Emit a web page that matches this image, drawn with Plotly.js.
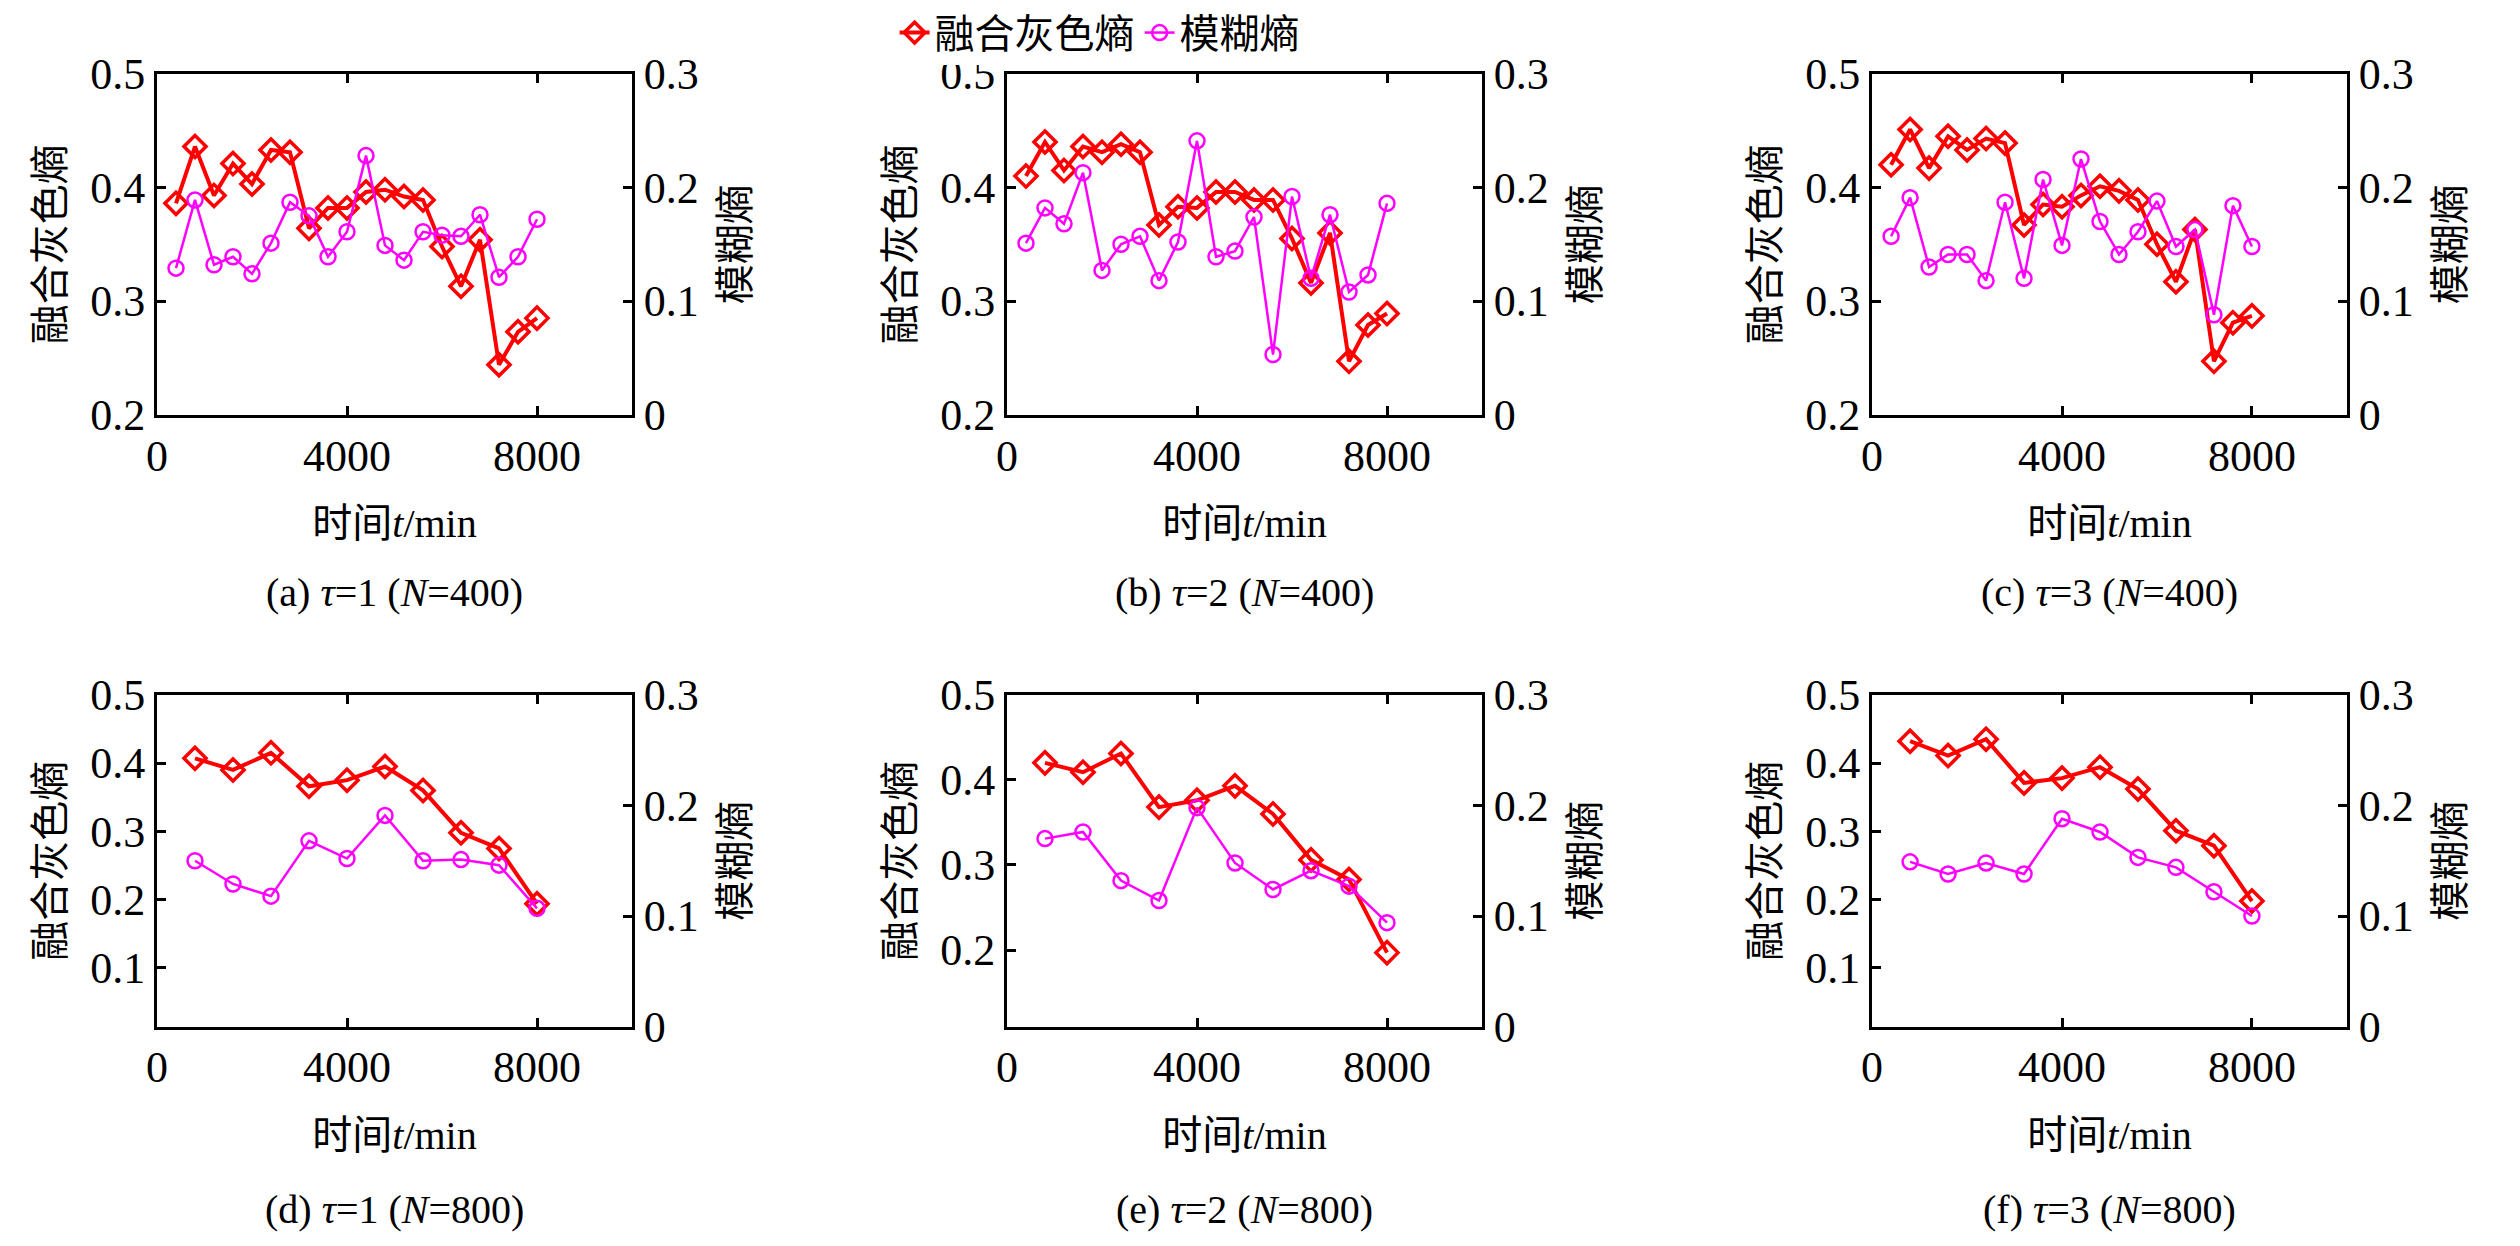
<!DOCTYPE html>
<html>
<head>
<meta charset="utf-8">
<script src="https://cdn.plot.ly/plotly-3.0.1.min.js"></script>
<style>body{margin:0;background:#fff}#myDiv{width:2520px;height:1246px}</style>
</head>
<body>
<div id="myDiv"></div>
<script>
// time axis for N=400 and N=800
var t400 = [400,800,1200,1600,2000,2400,2800,3200,3600,4000,4400,4800,5200,5600,6000,6400,6800,7200,7600,8000];
var t800 = [800,1600,2400,3200,4000,4800,5600,6400,7200,8000];

// 融合灰色熵 (left axis)
var grey_a = [0.386,0.436,0.393,0.421,0.403,0.433,0.431,0.364,0.382,0.382,0.396,0.398,0.392,0.389,0.348,0.313,0.354,0.244,0.273,0.285];
var grey_b = [0.410,0.440,0.415,0.436,0.431,0.438,0.431,0.367,0.383,0.382,0.396,0.396,0.389,0.389,0.355,0.316,0.360,0.247,0.279,0.289];
var grey_c = [0.420,0.451,0.417,0.445,0.433,0.443,0.439,0.367,0.385,0.383,0.393,0.401,0.397,0.389,0.350,0.317,0.363,0.247,0.281,0.287];
var grey_d = [0.407,0.390,0.415,0.366,0.375,0.395,0.360,0.298,0.275,0.194];
var grey_e = [0.420,0.409,0.431,0.368,0.376,0.393,0.360,0.306,0.283,0.197];
var grey_f = [0.432,0.411,0.435,0.371,0.378,0.394,0.362,0.301,0.279,0.198];

// 模糊熵 (right axis)
var fuzzy_a = [0.129,0.189,0.132,0.139,0.124,0.151,0.187,0.175,0.139,0.161,0.228,0.149,0.136,0.161,0.158,0.157,0.176,0.121,0.139,0.172];
var fuzzy_b = [0.151,0.182,0.168,0.213,0.127,0.150,0.157,0.118,0.152,0.241,0.139,0.144,0.174,0.053,0.192,0.120,0.176,0.108,0.123,0.186];
var fuzzy_c = [0.157,0.191,0.130,0.141,0.141,0.118,0.187,0.120,0.207,0.149,0.225,0.170,0.141,0.161,0.188,0.148,0.163,0.088,0.184,0.148];
var fuzzy_d = [0.150,0.129,0.118,0.168,0.152,0.191,0.150,0.151,0.146,0.107];
var fuzzy_e = [0.170,0.176,0.132,0.114,0.198,0.148,0.124,0.141,0.127,0.094];
var fuzzy_f = [0.149,0.138,0.148,0.138,0.188,0.176,0.153,0.144,0.122,0.100];

var captions = ['(a) <i>τ</i>=1 (<i>N</i>=400)','(b) <i>τ</i>=2 (<i>N</i>=400)','(c) <i>τ</i>=3 (<i>N</i>=400)',
                '(d) <i>τ</i>=1 (<i>N</i>=800)','(e) <i>τ</i>=2 (<i>N</i>=800)','(f) <i>τ</i>=3 (<i>N</i>=800)'];

var panels = [
  {t: t400, g: grey_a, f: fuzzy_a, yl: [0.2,0.5], yr: [0,0.3]},
  {t: t400, g: grey_b, f: fuzzy_b, yl: [0.2,0.5], yr: [0,0.3]},
  {t: t400, g: grey_c, f: fuzzy_c, yl: [0.2,0.5], yr: [0,0.3]},
  {t: t800, g: grey_d, f: fuzzy_d, yl: [0.014,0.5], yr: [0,0.3]},
  {t: t800, g: grey_e, f: fuzzy_e, yl: [0.11,0.5], yr: [0,0.3]},
  {t: t800, g: grey_f, f: fuzzy_f, yl: [0.014,0.5], yr: [0,0.3]}
];

var xdom = [[0.0623,0.2508],[0.3996,0.5881],[0.7429,0.9313]];
var ydom = [[0.6693,0.9438],[0.1766,0.4438]];
var serif = 'Liberation Serif, Noto Sans CJK SC';
var tickfont = {family: 'Liberation Serif', size: 44, color: '#000'};
var titlefont = {family: serif, size: 40, color: '#000'};

var data = [];
var layout = {
  width: 2520, height: 1246,
  margin: {l: 0, r: 0, t: 0, b: 0},
  paper_bgcolor: '#fff', plot_bgcolor: '#fff',
  showlegend: true,
  legend: {orientation: 'h', x: 0.355, y: 0.977, xanchor: 'left', yanchor: 'middle',
           font: {family: serif, size: 40, color: '#000'}},
  annotations: []
};

panels.forEach(function(p, i){
  var n = i + 1;
  var xa = 'x' + (n === 1 ? '' : n);
  var yl = 2 * n - 1, yr = 2 * n;
  var yla = 'y' + (yl === 1 ? '' : yl), yra = 'y' + yr;
  data.push({x: p.t, y: p.g, xaxis: xa, yaxis: yla, type: 'scatter', mode: 'lines+markers',
    name: '融合灰色熵', showlegend: i === 0, legendrank: 1,
    line: {color: '#ff0000', width: 4},
    marker: {symbol: 'diamond-open', size: 17, color: '#ff0000', line: {width: 3.5, color: '#ff0000'}}});
  data.push({x: p.t, y: p.f, xaxis: xa, yaxis: yra, type: 'scatter', mode: 'lines+markers',
    name: '模糊熵', showlegend: i === 0, legendrank: 2,
    line: {color: '#ff00ff', width: 2.5},
    marker: {symbol: 'circle-open', size: 15, color: '#ff00ff', line: {width: 2.5, color: '#ff00ff'}}});

  var row = i < 3 ? 0 : 1, col = i % 3;
  var axis = {showline: true, linecolor: '#000', linewidth: 3, ticks: 'inside', ticklen: 9,
              tickwidth: 3, tickcolor: '#000', showgrid: false, zeroline: false, tickfont: tickfont};
  layout['xaxis' + (n === 1 ? '' : n)] = Object.assign({}, axis, {
    domain: xdom[col], anchor: yla, range: [0, 10000], tickvals: [0, 4000, 8000], mirror: 'ticks',
    title: {text: '时间<i>t</i>/min', font: titlefont, standoff: 30}});
  layout['yaxis' + (yl === 1 ? '' : yl)] = Object.assign({}, axis, {
    domain: ydom[row], anchor: xa, range: p.yl,
    tickvals: row === 0 ? [0.2, 0.3, 0.4, 0.5] : [0.1, 0.2, 0.3, 0.4, 0.5], tickformat: '.1f',
    title: {text: '融合灰色熵', font: titlefont, standoff: 14}});
  layout['yaxis' + yr] = Object.assign({}, axis, {
    overlaying: 'y' + (yl === 1 ? '' : yl), side: 'right', anchor: xa, range: p.yr,
    tickvals: [0, 0.1, 0.2, 0.3], ticktext: ['0', '0.1', '0.2', '0.3'],
    title: {text: '模糊熵', font: titlefont, standoff: 24}});
  layout.annotations.push({text: captions[i], xref: 'paper', yref: 'paper',
    x: (xdom[col][0] + xdom[col][1]) / 2, y: row === 0 ? 1 - 590 / 1246 : 1 - 1209 / 1246,
    xanchor: 'center', yanchor: 'middle', showarrow: false,
    font: {family: serif, size: 40, color: '#000'}});
});

Plotly.newPlot('myDiv', data, layout, {staticPlot: true});
</script>
</body>
</html>
